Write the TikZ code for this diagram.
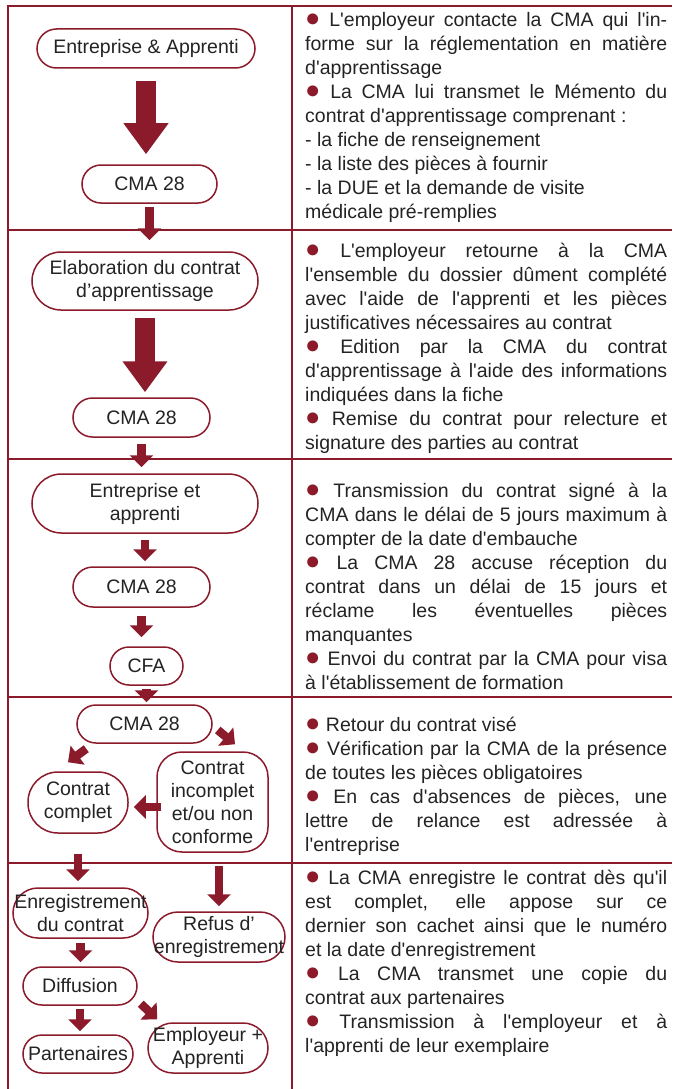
\documentclass[tikz,border=0pt]{standalone}
\usepackage{fontspec}
\setmainfont{Liberation Sans}[Ligatures=TeXOff]
\usetikzlibrary{arrows.meta}
\definecolor{cmared}{RGB}{139,26,42}
\definecolor{gristexte}{RGB}{35,35,35}
\newcommand{\puce}{\textcolor{cmared}{\scalebox{1.3}{●}}}
\newcommand{\reglage}{\tolerance=9999\relax\hyphenpenalty=10000\relax}
\tikzset{
  etape/.style={draw=cmared, line width=1.5pt, fill=white, align=center, inner sep=0pt,
    text=gristexte, font=\fontsize{19.5}{23}\selectfont},
  grossefleche/.style={draw=cmared, line width=20pt, -{Triangle[length=31pt,width=43pt]}},
  fleche/.style={draw=cmared, line width=8.5pt, -{Triangle[length=12pt,width=23pt]}},
  colonne/.style={anchor=north west, text width=362pt, align=justify, inner sep=0pt,
    text=gristexte, font=\fontsize{19.5}{24}\selectfont\reglage},
  cadre/.style={draw=cmared, line width=2.5pt}
}
\begin{document}
\begin{tikzpicture}[x=1pt,y=-1pt]
\useasboundingbox (0,0) rectangle (672,1089);

% tableau
\draw[cadre] (672,6) -- (8,6) -- (8,1089);
\draw[cadre] (292,6) -- (292,1089);
\draw[cadre] (8,230) -- (672,230);
\draw[cadre] (8,459) -- (672,459);
\draw[cadre] (8,697) -- (672,697);
\draw[cadre] (8,863) -- (672,863);

% etape 1
\node[etape, minimum width=218pt, minimum height=39pt, rounded corners=19.5pt] (entapp) at (146,48.5) {Entreprise \& Apprenti};
\node[etape, minimum width=135pt, minimum height=38pt, rounded corners=19pt] (cma1) at (149.5,184) {CMA 28};
\draw[grossefleche, shorten <=12pt, shorten >=10pt] (entapp.south) -- (entapp.south |- cma1.north);

% etape 2
\node[etape, minimum width=226pt, minimum height=58pt, rounded corners=29pt] (elab) at (145,281) {Elaboration du contrat\\d’apprentissage};
\node[etape, minimum width=137pt, minimum height=39pt, rounded corners=19.5pt] (cma2) at (141.5,417.5) {CMA 28};
\draw[fleche, shorten <=3pt, shorten >=11pt] (cma1.south) -- (cma1.south |- elab.north);
\draw[grossefleche, shorten <=7pt, shorten >=5pt] (elab.south) -- (elab.south |- cma2.north);

% etape 3
\node[etape, minimum width=226pt, minimum height=59pt, rounded corners=29.5pt] (entet) at (145,503.5) {Entreprise et\\apprenti};
\node[etape, minimum width=137pt, minimum height=40pt, rounded corners=20pt] (cma3) at (141.5,587) {CMA 28};
\node[etape, minimum width=73pt, minimum height=38pt, rounded corners=19pt] (cfa) at (146.5,666) {CFA};
\draw[fleche, shorten <=6pt, shorten >=6pt] (cma2.south) -- (cma2.south |- entet.north);
\draw[fleche, shorten <=6pt, shorten >=5pt] (entet.south) -- (entet.south |- cma3.north);
\draw[fleche, shorten <=8pt, shorten >=9pt] (cma3.south) -- (cma3.south |- cfa.north);

% etape 4
\node[etape, minimum width=135pt, minimum height=38pt, rounded corners=19pt] (cma4) at (144.5,724) {CMA 28};
\node[etape, minimum width=100pt, minimum height=61pt, rounded corners=30pt] (complet) at (78,802.5) {Contrat\\complet};
\node[etape, minimum width=111pt, minimum height=100pt, rounded corners=25pt] (incomplet) at (212.5,802) {Contrat\\incomplet\\et/ou non\\conforme};
\draw[fleche, shorten <=3pt, shorten >=2pt] (cfa.south) -- (cfa.south |- cma4.north);
\draw[fleche] ([xshift=10pt,yshift=-5pt]cma4.south west) -- ([xshift=-10pt,yshift=9pt]complet.north);
\draw[fleche] ([xshift=5pt,yshift=-6pt]cma4.east) -- ([xshift=22.5pt,yshift=7pt]incomplet.north);
\draw[fleche, shorten <=-5pt, shorten >=5pt] ([yshift=-5pt]incomplet.west) -- ([yshift=-5pt]incomplet.west -| complet.east);

% etape 5
\node[etape, minimum width=135pt, minimum height=50pt, rounded corners=25pt] (enreg) at (80.5,913) {Enregistrement\\du contrat};
\node[etape, minimum width=132pt, minimum height=50pt, rounded corners=25pt] (refus) at (219,937) {Refus d’\\enregistrement};
\node[etape, minimum width=114pt, minimum height=38pt, rounded corners=19pt] (diff) at (80,986) {Diffusion};
\node[etape, minimum width=110pt, minimum height=38pt, rounded corners=19pt] (part) at (78,1054) {Partenaires};
\node[etape, minimum width=120pt, minimum height=50pt, rounded corners=25pt] (empl) at (208,1048) {Employeur +\\Apprenti};
\draw[fleche, shorten <=20pt, shorten >=6pt] (complet.south) -- (complet.south |- enreg.north);
\draw[fleche, shorten <=13pt, shorten >=5pt] (refus.north |- incomplet.south) -- (refus.north);
\draw[fleche, shorten <=4pt, shorten >=4pt] (enreg.south) -- (enreg.south |- diff.north);
\draw[fleche, shorten <=3pt, shorten >=3pt] (diff.south) -- (diff.south |- part.north);
\draw[fleche] ([xshift=3pt,yshift=2pt]diff.south east) -- ([xshift=10pt,yshift=3pt]empl.north west);

% colonne de droite
\node[colonne] (texte1) at (305,12) {\puce{} L'employeur contacte la CMA qui l'in-\linebreak forme sur la réglementation en matière\linebreak d'apprentissage\\ \puce{} La CMA lui transmet le Mémento du\linebreak contrat d'apprentissage comprenant :\\ - la fiche de renseignement\\ - la liste des pièces à fournir\\ - la DUE et la demande de visite\\ médicale pré-remplies};
\node[colonne] (texte2) at (305,243) {\puce{} L'employeur retourne à la CMA\linebreak l'ensemble du dossier dûment complété\linebreak avec l'aide de l'apprenti et les pièces\linebreak justificatives nécessaires au contrat\\ \puce{} Edition par la CMA du contrat\linebreak d'apprentissage à l'aide des informations\linebreak indiquées dans la fiche\\ \puce{} Remise du contrat pour relecture et\linebreak signature des parties au contrat};
\node[colonne] (texte3) at (305,483) {\puce{} Transmission du contrat signé à la\linebreak CMA dans le délai de 5 jours maximum à\linebreak compter de la date d'embauche\\ \puce{} La CMA 28 accuse réception du\linebreak contrat dans un délai de 15 jours et\linebreak réclame les éventuelles pièces\linebreak manquantes\\ \puce{} Envoi du contrat par la CMA pour visa\linebreak à l'établissement de formation};
\node[colonne] (texte4) at (305,717) {\puce{} Retour du contrat visé\\ \puce{} Vérification par la CMA de la présence\linebreak de toutes les pièces obligatoires\\ \puce{} En cas d'absences de pièces, une\linebreak lettre de relance est adressée à\linebreak l'entreprise};
\node[colonne] (texte5) at (305,870) {\puce{} La CMA enregistre le contrat dès qu'il\linebreak est complet, elle appose sur ce\linebreak dernier son cachet ainsi que le numéro\linebreak et la date d'enregistrement\\ \puce{} La CMA transmet une copie du\linebreak contrat aux partenaires\\ \puce{} Transmission à l'employeur et à\linebreak l'apprenti de leur exemplaire};
\end{tikzpicture}
\end{document}
